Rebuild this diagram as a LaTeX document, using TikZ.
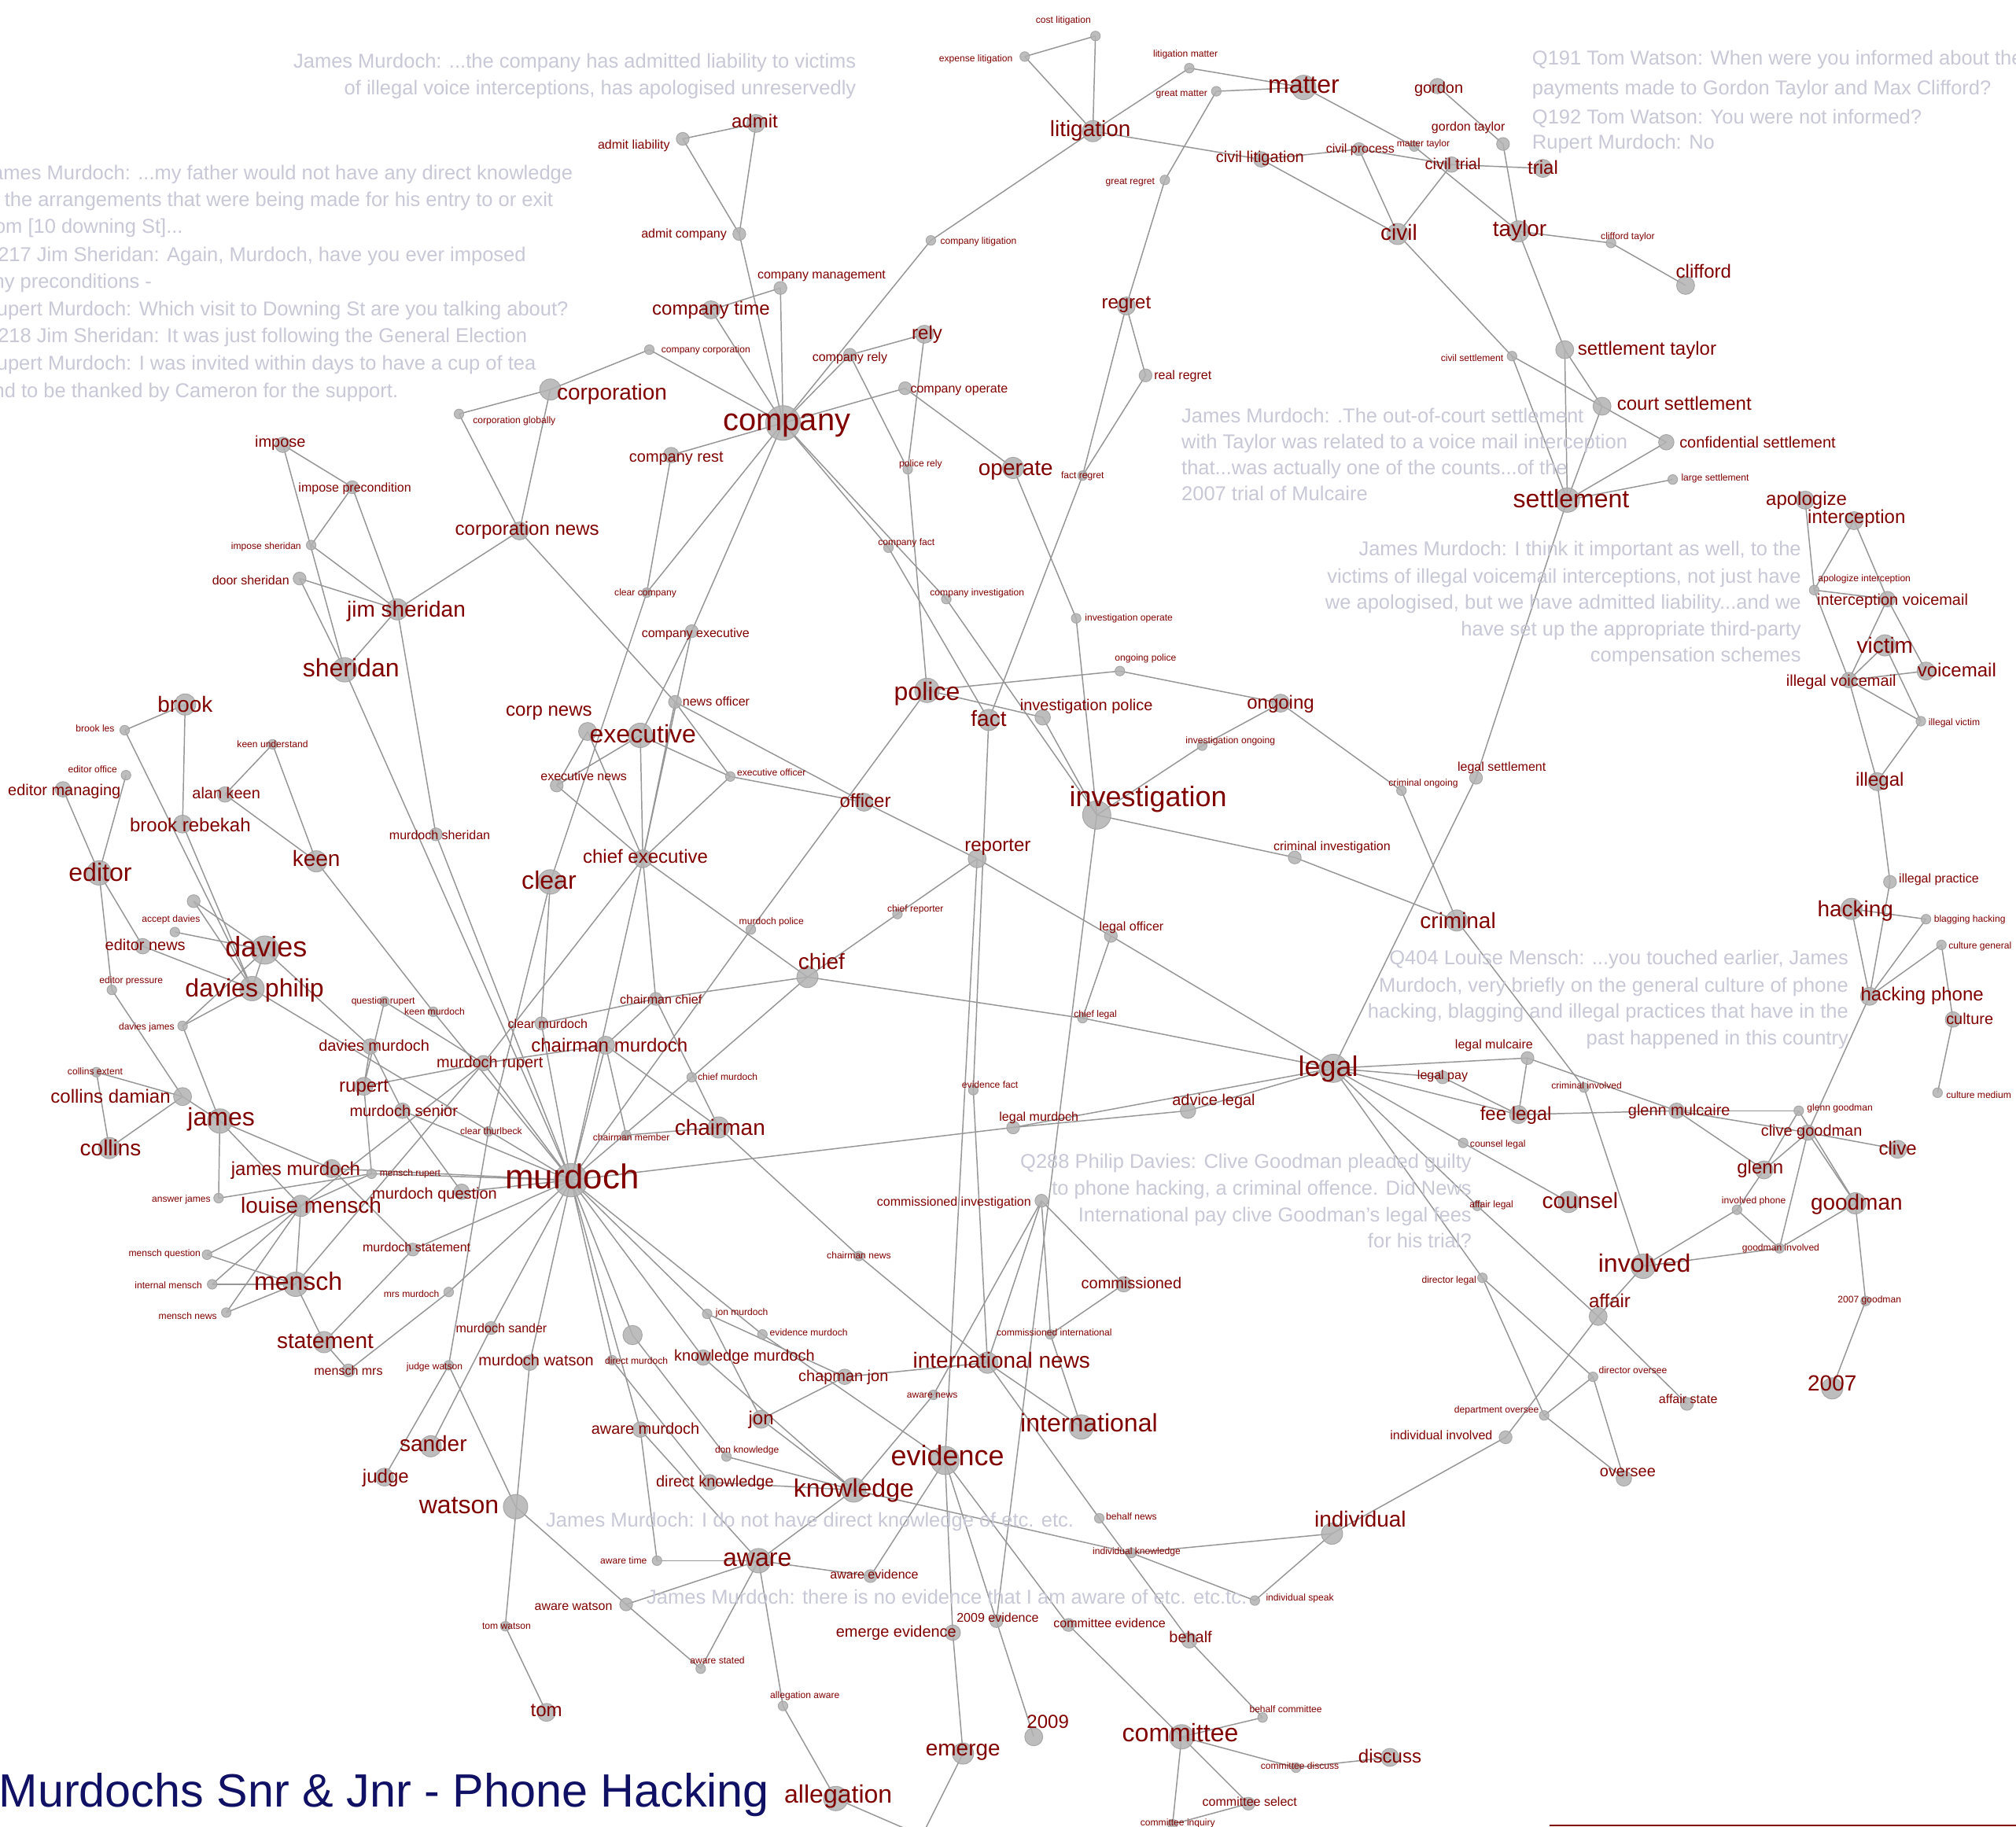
\documentclass[tikz,border=0pt]{standalone}
\usepackage{fontspec}
\setmainfont{Liberation Sans}
\pgfdeclarelayer{bgw}\pgfdeclarelayer{bg}\pgfdeclarelayer{mid}
\pgfsetlayers{bgw,bg,mid,main}
\definecolor{lblred}{RGB}{128,0,0}
\definecolor{edgegray}{RGB}{150,150,150}
\definecolor{dotfill}{RGB}{178,178,178}
\definecolor{dotdraw}{RGB}{160,160,160}
\definecolor{cmtgray}{RGB}{200,200,214}
\definecolor{titleblue}{RGB}{16,16,100}
\tikzset{
 blob/.style={circle,fill=dotfill,draw=dotdraw,line width=0.6pt,fill opacity=0.85,draw opacity=0.85,inner sep=0pt},
 lbl/.style={text=lblred,inner sep=0pt,anchor=mid},
 link/.style={draw=edgegray,line width=0.9pt},
 cmt/.style={text=cmtgray,inner sep=0pt,yshift=-3pt,font=\fontsize{15.6}{15.6}\selectfont},
 ttl/.style={text=titleblue,inner sep=0pt,font=\fontsize{36.3}{36.3}\selectfont},
}
\newcommand\nd[7]{%
 \edef\ndD{\ifcase#4\or7.5\or10\or12\or14\or16.5\or19\or22\or27\or26\fi}%
 \edef\ndF{\ifcase#4\or7.4\or9.8\or12.2\or14.7\or17.1\or19.6\or22\or24.4\or26.8\fi}%
 \pgfmathsetmacro\ndY{0.28*\ndF-1.5}%
 \begin{pgfonlayer}{mid}\node[blob,minimum size=\ndD pt] (#1) at (#2,#3) {};\end{pgfonlayer}%
 \node[lbl,yshift=-\ndY pt,font=\fontsize{\ndF}{\ndF}\selectfont] (#1-t) at (#6,#7) {#5};%
}
\begin{document}
\begin{tikzpicture}[x=1pt,y=-1pt]
\useasboundingbox (0,0) rectangle (1568,1421);
\begin{pgfonlayer}{bgw}\fill[white] (0,0) rectangle (1568,1421);\end{pgfonlayer}

% ---------- comment texts ----------
\node[cmt,anchor=mid east] (cA1) at (666,47) {James Murdoch: ...the company has admitted liability to victims};
\node[cmt,anchor=mid east] (cA2) at (666,68) {of illegal voice interceptions, has apologised unreservedly};
\node[cmt,anchor=mid west] (cB1) at (-14,134) {James Murdoch: ...my father would not have any direct knowledge};
\node[cmt,anchor=mid west] (cB2) at (-14,155) {of the arrangements that were being made for his entry to or exit};
\node[cmt,anchor=mid west] (cB3) at (-14,176) {from [10 downing St]...};
\node[cmt,anchor=mid west] (cB4) at (-14,197.5) {Q217 Jim Sheridan: Again, Murdoch, have you ever imposed};
\node[cmt,anchor=mid west] (cB5) at (-14,218.5) {any preconditions -};
\node[cmt,anchor=mid west] (cB6) at (-14,240) {Rupert Murdoch: Which visit to Downing St are you talking about?};
\node[cmt,anchor=mid west] (cB7) at (-14,261) {Q218 Jim Sheridan: It was just following the General Election};
\node[cmt,anchor=mid west] (cB8) at (-14,282.5) {Rupert Murdoch: I was invited within days to have a cup of tea};
\node[cmt,anchor=mid west] (cB9) at (-14,303.5) {and to be thanked by Cameron for the support.};
\node[cmt,anchor=mid west] (cC1) at (1191.5,44.6) {Q191 Tom Watson: When were you informed about the};
\node[cmt,anchor=mid west] (cC2) at (1191.5,68) {payments made to Gordon Taylor and Max Clifford?};
\node[cmt,anchor=mid west] (cC3) at (1191.5,90.8) {Q192 Tom Watson: You were not informed?};
\node[cmt,anchor=mid west] (cC4) at (1191.5,110.3) {Rupert Murdoch: No};
\node[cmt,anchor=mid west] (cD1) at (918.8,323) {James Murdoch: .The out-of-court settlement};
\node[cmt,anchor=mid west] (cD2) at (918.8,343.3) {with Taylor was related to a voice mail interception};
\node[cmt,anchor=mid west] (cD3) at (918.8,363.5) {that...was actually one of the counts...of the};
\node[cmt,anchor=mid west] (cD4) at (918.8,384) {2007 trial of Mulcaire};
\node[cmt,anchor=mid east] (cE1) at (1401,426.5) {James Murdoch: I think it important as well, to the};
\node[cmt,anchor=mid east] (cE2) at (1401,448) {victims of illegal voicemail interceptions, not just have};
\node[cmt,anchor=mid east] (cE3) at (1401,468) {we apologised, but we have admitted liability...and we};
\node[cmt,anchor=mid east] (cE4) at (1401,489) {have set up the appropriate third-party};
\node[cmt,anchor=mid east] (cE5) at (1401,509) {compensation schemes};
\node[cmt,anchor=mid east] (cF1) at (1437.8,745) {Q404 Louise Mensch: ...you touched earlier, James};
\node[cmt,anchor=mid east] (cF2) at (1437.8,766) {Murdoch, very briefly on the general culture of phone};
\node[cmt,anchor=mid east] (cF3) at (1437.8,786) {hacking, blagging and illegal practices that have in the};
\node[cmt,anchor=mid east] (cF4) at (1437.8,807) {past happened in this country};
\node[cmt,anchor=mid east] (cG1) at (1144.7,903) {Q288 Philip Davies: Clive Goodman pleaded guilty};
\node[cmt,anchor=mid east] (cG2) at (1144.7,924) {to phone hacking, a criminal offence. Did News};
\node[cmt,anchor=mid east] (cG3) at (1144.7,944.6) {International pay clive Goodman's legal fees};
\node[cmt,anchor=mid east] (cG4) at (1144.7,965) {for his trial?};
\node[cmt,anchor=mid west] (cH1) at (424.5,1182) {James Murdoch: I do not have direct knowledge of etc. etc.};
\node[cmt,anchor=mid west] (cI1) at (502.8,1242) {James Murdoch: there is no evidence that I am aware of etc. etc.tc.};

% ---------- nodes ----------
\nd{costlit}{852}{28}{1}{cost litigation}{827}{15}
\nd{explit}{797}{44}{1}{expense litigation}{759}{45}
\nd{litmat}{925}{53}{1}{litigation matter}{922}{41}
\nd{grtmat}{946}{71}{1}{great matter}{919}{72}
\nd{matter}{1014}{68}{6}{matter}{1014}{66}
\nd{litigation}{850}{102}{5}{litigation}{848}{100}
\nd{gordon}{1118}{67}{3}{gordon}{1119}{68}
\nd{gordontaylor}{1169}{112}{2}{gordon taylor}{1142}{98}
\nd{mattertaylor}{1100}{114}{1}{matter taylor}{1107}{111}
\nd{civilproc}{1057}{116}{2}{civil process}{1058}{115}
\nd{civillit}{981}{124}{3}{civil litigation}{980}{122}
\nd{civiltrial}{1129}{128}{3}{civil trial}{1130}{127}
\nd{trial}{1200}{131}{4}{trial}{1200}{130}
\nd{civil}{1087}{182}{5}{civil}{1088}{181}
\nd{taylor}{1181}{180}{5}{taylor}{1182}{178}
\nd{cliffordtaylor}{1253}{189}{1}{clifford taylor}{1266}{183}
\nd{clifford}{1311}{222}{4}{clifford}{1325}{211}
\nd{grtregret}{906}{140}{1}{great regret}{879}{140}
\nd{compLit}{724}{187}{1}{company litigation}{761}{187}
\nd{regret}{876}{238}{4}{regret}{876}{235}
\nd{realregret}{891}{292}{2}{real regret}{920}{291}
\nd{factregret}{842}{370}{1}{fact regret}{842}{369}
\nd{civilsett}{1176}{277}{1}{civil settlement}{1145}{278}
\nd{setttaylor}{1217}{272}{4}{settlement taylor}{1281}{271}
\nd{courtsett}{1246}{316}{4}{court settlement}{1310}{314}
\nd{confsett}{1296}{344}{3}{confidential settlement}{1367}{344}
\nd{largesett}{1301}{373}{1}{large settlement}{1334}{371}
\nd{settlement}{1219}{389}{6}{settlement}{1222}{388}

\nd{admit}{588}{96}{4}{admit}{587}{94}
\nd{admitliab}{531}{108}{2}{admit liability}{493}{112}
\nd{admitcomp}{575}{182}{2}{admit company}{532}{181}
\nd{compmgmt}{607}{224}{2}{company management}{639}{213}
\nd{comptime}{553}{241}{4}{company time}{553}{240}
\nd{compcorp}{505}{272}{1}{company corporation}{549}{271}
\nd{corporation}{428}{303}{5}{corporation}{476}{305}
\nd{corpglobal}{357}{322}{1}{corporation globally}{400}{326}
\nd{rely}{719}{260}{4}{rely}{721}{259}
\nd{comprely}{661}{276}{2}{company rely}{661}{277}
\nd{compop}{704}{302}{2}{company operate}{746}{302}
\nd{company}{609}{329}{8}{company}{612}{327}
\nd{comprest}{522}{354}{3}{company rest}{526}{355}
\nd{policerely}{706}{365}{1}{police rely}{716}{360}
\nd{operate}{788}{364}{5}{operate}{790}{364}
\nd{corpnews}{404}{413}{4}{corporation news}{410}{411}
\nd{compfact}{691}{426}{1}{company fact}{705}{421}
\nd{clearcomp}{503}{461}{1}{clear company}{502}{460}
\nd{compinvest}{736}{466}{1}{company investigation}{760}{460}
\nd{invop}{837}{481}{1}{investigation operate}{878}{480}
\nd{compexec}{538}{491}{2}{company executive}{541}{492}

\nd{impose}{220}{346}{3}{impose}{218}{343}
\nd{imposeprec}{274}{379}{2}{impose precondition}{276}{379}
\nd{imposesher}{242}{424}{1}{impose sheridan}{207}{424}
\nd{doorsher}{233}{450}{2}{door sheridan}{195}{451}
\nd{jimsher}{309}{474}{5}{jim sheridan}{316}{474}
\nd{sheridan}{268}{521}{6}{sheridan}{273}{520}
\nd{brook}{144}{548}{5}{brook}{144}{548}
\nd{brookles}{97}{568}{1}{brook les}{74}{566}
\nd{keenunder}{212}{579}{1}{keen understand}{212}{578}
\nd{editoroffice}{98}{603}{1}{editor office}{72}{598}
\nd{editormanag}{49}{614}{3}{editor managing}{50}{614}
\nd{alankeen}{175}{618}{3}{alan keen}{176}{617}
\nd{brookreb}{142}{641}{4}{brook rebekah}{148}{642}
\nd{keen}{246}{670}{5}{keen}{246}{668}
\nd{editor}{77}{679}{6}{editor}{78}{679}
\nd{murdochsher}{339}{649}{2}{murdoch sheridan}{342}{649}
\nd{acceptdavies}{136}{725}{1}{accept davies}{133}{714}
\nd{editornews}{111}{736}{3}{editor news}{113}{735}
\nd{davies}{206}{739}{7}{davies}{207}{737}
\nd{editorpress}{87}{770}{1}{editor pressure}{102}{762}
\nd{daviesphilip}{196}{769}{6}{davies philip}{198}{769}
\nd{daviesjames}{142}{798}{1}{davies james}{114}{798}
\nd{questionrupert}{299}{779}{1}{question rupert}{298}{778}
\nd{keenmurdoch}{337}{787}{1}{keen murdoch}{338}{786}
\nd{clearmurdoch}{421}{796}{2}{clear murdoch}{426}{796}
\nd{daviesmurdoch}{288}{814}{3}{davies murdoch}{291}{813}
\nd{murdochrupert}{376}{827}{3}{murdoch rupert}{381}{826}
\nd{rupert}{283}{845}{4}{rupert}{283}{844}
\nd{collinsextent}{75}{834}{1}{collins extent}{74}{833}
\nd{collinsdamian}{142}{853}{4}{collins damian}{86}{853}
\nd{collins}{85}{893}{5}{collins}{86}{893}
\nd{james}{171}{872}{6}{james}{172}{869}
\nd{murdochsenior}{313}{864}{3}{murdoch senior}{314}{864}
\nd{clearthurlbeck}{380}{880}{1}{clear thurlbeck}{382}{879}
\nd{jamesmurdoch}{258}{909}{4}{james murdoch}{230}{909}
\nd{menschrupert}{289}{913}{1}{mensch rupert}{319}{912}
\nd{murdochquestion}{359}{927}{3}{murdoch question}{338}{928}
\nd{answerjames}{170}{932}{1}{answer james}{141}{932}
\nd{louisemensch}{234}{938}{5}{louise mensch}{242}{938}
\nd{murdoch}{444}{918}{9}{murdoch}{445}{916}
\nd{menschquestion}{161}{976}{1}{mensch question}{128}{974}
\nd{murdochstatement}{321}{972}{2}{murdoch statement}{324}{970}
\nd{internalmensch}{165}{999}{1}{internal mensch}{131}{999}
\nd{mensch}{230}{999}{6}{mensch}{232}{997}
\nd{mrsmurdoch}{349}{1005}{1}{mrs murdoch}{320}{1006}
\nd{menschnews}{176}{1021}{1}{mensch news}{146}{1023}
\nd{statement}{252}{1044}{5}{statement}{253}{1043}
\nd{menschmrs}{271}{1066}{2}{mensch mrs}{271}{1066}
\nd{murdochsander}{382}{1033}{2}{murdoch sander}{390}{1033}
\nd{judgewatson}{349}{1062}{1}{judge watson}{338}{1062}
\nd{murdochwatson}{412}{1060}{3}{murdoch watson}{417}{1058}
\nd{directmurdoch}{476}{1058}{1}{direct murdoch}{495}{1058}
\nd{sander}{335}{1125}{5}{sander}{337}{1123}
\nd{judge}{299}{1149}{4}{judge}{300}{1148}
\nd{watson}{401}{1172}{6}{watson}{357}{1171}
\nd{tomwatson}{393}{1265}{1}{tom watson}{394}{1264}
\nd{tom}{425}{1332}{4}{tom}{425}{1330}
\begin{pgfonlayer}{mid}
\node[blob,minimum size=10pt] (u1) at (150.6,701) {};
\node[blob,minimum size=15pt] (u2) at (492,1038.5) {};
\end{pgfonlayer}

\nd{newsofficer}{525}{546}{2}{news officer}{557}{545}
\nd{corpnews2}{457}{569}{4}{corp news}{427}{552}
\nd{executive}{498}{572}{6}{executive}{500}{571}
\nd{executivenews}{433}{611}{2}{executive news}{454}{603}
\nd{execofficer}{568}{604}{1}{executive officer}{600}{600}
\nd{officer}{672}{624}{4}{officer}{673}{623}
\nd{chiefexec}{500}{668}{4}{chief executive}{502}{666}
\nd{clear}{428}{686}{6}{clear}{427}{685}
\nd{murdochpolice}{584}{723}{1}{murdoch police}{600}{716}
\nd{chiefreporter}{698}{711}{1}{chief reporter}{712}{706}
\nd{reporter}{760}{668}{4}{reporter}{776}{657}
\nd{chief}{628}{760}{5}{chief}{639}{748}
\nd{chairmanchief}{510}{777}{2}{chairman chief}{514}{777}
\nd{chairmanmurdoch}{471}{813}{4}{chairman murdoch}{474}{813}
\nd{chiefmurdoch}{538}{838}{1}{chief murdoch}{566}{837}
\nd{chairman}{559}{877}{5}{chairman}{560}{877}
\nd{chairmanmember}{487}{883}{1}{chairman member}{491}{884}
\nd{police}{721}{537}{6}{police}{721}{538}
\nd{fact}{769}{560}{5}{fact}{769}{559}
\nd{ongoingpolice}{871}{522}{1}{ongoing police}{891}{511}
\nd{invpolice}{811}{558}{3}{investigation police}{845}{548}
\nd{ongoing}{996}{547}{4}{ongoing}{996}{546}
\nd{invongoing}{935}{580}{1}{investigation ongoing}{957}{575}
\nd{investigation}{853}{634}{7}{investigation}{893}{620}
\nd{criminalongoing}{1090}{615}{1}{criminal ongoing}{1107}{608}
\nd{legalsett}{1148}{605}{2}{legal settlement}{1168}{596}
\nd{criminalinv}{1007}{667}{2}{criminal investigation}{1036}{658}
\nd{criminal}{1133}{716}{5}{criminal}{1134}{716}
\nd{legalofficer}{864}{728}{2}{legal officer}{880}{720}
\nd{chieflegal}{842}{792}{1}{chief legal}{852}{788}
\nd{evidencefact}{757}{848}{1}{evidence fact}{770}{843}
\nd{legal}{1037}{831}{7}{legal}{1033}{830}
\nd{advicelegal}{924}{864}{3}{advice legal}{944}{855}
\nd{legalmurdoch}{788}{877}{2}{legal murdoch}{808}{868}
\nd{legalmulcaire}{1188}{823}{2}{legal mulcaire}{1162}{812}
\nd{legalpay}{1122}{838}{2}{legal pay}{1122}{836}
\nd{feelegal}{1181}{867}{4}{fee legal}{1179}{866}
\nd{counsellegal}{1138}{889}{1}{counsel legal}{1165}{889}
\nd{counsel}{1220}{935}{5}{counsel}{1229}{934}
\nd{criminalinvolved}{1232}{846}{1}{criminal involved}{1234}{844}
\nd{glennmulcaire}{1304}{864}{3}{glenn mulcaire}{1306}{863}
\nd{glenngoodman}{1399}{864}{1}{glenn goodman}{1431}{861}
\nd{clivegoodman}{1406}{881}{3}{clive goodman}{1409}{879}
\nd{clive}{1476}{894}{4}{clive}{1476}{893}
\nd{glenn}{1372}{910}{4}{glenn}{1369}{908}
\nd{involvedphone}{1351}{941}{1}{involved phone}{1364}{933}
\nd{goodman}{1443}{936}{5}{goodman}{1444}{935}
\nd{goodmaninvolved}{1384}{971}{1}{goodman involved}{1385}{970}
\nd{involved}{1278}{985}{6}{involved}{1279}{983}
\nd{affair}{1243}{1024}{4}{affair}{1252}{1012}
\nd{affairlegal}{1149}{938}{1}{affair legal}{1160}{936}
\nd{directorlegal}{1153}{994}{1}{director legal}{1127}{995}
\nd{directoroversee}{1239}{1071}{1}{director oversee}{1270}{1065}
\nd{affairstate}{1312}{1092}{2}{affair state}{1313}{1088}
\nd{deptoversee}{1201}{1101}{1}{department oversee}{1164}{1096}
\nd{indivinvolved}{1171}{1118}{2}{individual involved}{1121}{1116}
\nd{oversee}{1263}{1150}{3}{oversee}{1266}{1144}
\nd{goodmanseven}{1451}{1012}{1}{2007 goodman}{1454}{1010}
\nd{yseven}{1425}{1080}{5}{2007}{1425}{1076}

\nd{apologize}{1404}{389}{4}{apologize}{1405}{388}
\nd{interception}{1442}{405}{4}{interception}{1444}{402}
\nd{apologinterc}{1411}{459}{1}{apologize interception}{1450}{449}
\nd{intercvoicemail}{1468}{466}{3}{interception voicemail}{1472}{466}
\nd{victim}{1466}{502}{5}{victim}{1466}{502}
\nd{voicemail}{1498}{522}{4}{voicemail}{1522}{521}
\nd{illegalvoicemail}{1438}{529}{3}{illegal voicemail}{1432}{529}
\nd{illegalvictim}{1494}{561}{1}{illegal victim}{1520}{561}
\nd{illegal}{1460}{608}{4}{illegal}{1462}{606}
\nd{illegalpractice}{1470}{686}{2}{illegal practice}{1508}{683}
\nd{hacking}{1440}{707}{5}{hacking}{1443}{707}
\nd{blagginghacking}{1498}{715}{1}{blagging hacking}{1532}{714}
\nd{culturegeneral}{1510}{735}{1}{culture general}{1540}{735}
\nd{hackingphone}{1454}{775}{4}{hacking phone}{1495}{773}
\nd{culture}{1519}{793}{3}{culture}{1532}{792}
\nd{culturemedium}{1507}{850}{1}{culture medium}{1539}{851}

\nd{commInvest}{810}{934}{2}{commissioned investigation}{742}{934}
\nd{chairmannews}{668}{977}{1}{chairman news}{668}{976}
\nd{commissioned}{874}{999}{3}{commissioned}{880}{998}
\nd{jonmurdoch}{550}{1022}{1}{jon murdoch}{577}{1020}
\nd{evidencemurdoch}{593}{1038}{1}{evidence murdoch}{629}{1036}
\nd{comminternational}{817}{1038}{1}{commissioned international}{820}{1036}
\nd{knowledgemurdoch}{547}{1056}{3}{knowledge murdoch}{579}{1054}
\nd{internationalnews}{768}{1060}{5}{international news}{779}{1058}
\nd{chapmanjon}{657}{1071}{3}{chapman jon}{656}{1070}
\nd{awarenews}{726}{1085}{1}{aware news}{725}{1084}
\nd{jon}{592}{1104}{4}{jon}{592}{1103}
\nd{international}{841}{1110}{6}{international}{847}{1107}
\nd{awaremurdoch}{498}{1112}{3}{aware murdoch}{502}{1111}
\nd{donknowledge}{565}{1133}{1}{don knowledge}{581}{1127}
\nd{evidence}{735}{1136}{7}{evidence}{737}{1133}
\nd{directknowledge}{552}{1153}{3}{direct knowledge}{556}{1152}
\nd{knowledge}{664}{1159}{6}{knowledge}{664}{1158}
\nd{behalfnews}{855}{1181}{1}{behalf news}{880}{1179}
\nd{individual}{1036}{1193}{5}{individual}{1058}{1182}
\nd{indivknowledge}{880}{1208}{1}{individual knowledge}{884}{1206}
\nd{awaretime}{511}{1214}{1}{aware time}{485}{1213}
\nd{aware}{590}{1214}{6}{aware}{589}{1212}
\nd{awareevidence}{677}{1226}{2}{aware evidence}{680}{1224}
\nd{individualspeak}{976}{1245}{1}{individual speak}{1011}{1242}
\nd{awarewatson}{487}{1248}{2}{aware watson}{446}{1249}
\nd{ynineevidence}{775}{1261}{2}{2009 evidence}{776}{1258}
\nd{emergeevidence}{741}{1270}{3}{emerge evidence}{697}{1269}
\nd{committeeevidence}{831}{1264}{2}{committee evidence}{863}{1262}
\nd{behalf}{925}{1276}{3}{behalf}{926}{1273}
\nd{awarestated}{545}{1298}{1}{aware stated}{558}{1291}
\nd{allegationaware}{609}{1327}{1}{allegation aware}{626}{1318}
\nd{behalfcommittee}{982}{1336}{1}{behalf committee}{1000}{1329}
\nd{ynine}{804}{1351}{4}{2009}{815}{1339}
\nd{committee}{919}{1351}{6}{committee}{918}{1348}
\nd{emerge}{749}{1364}{5}{emerge}{749}{1360}
\nd{discuss}{1081}{1367}{4}{discuss}{1081}{1366}
\nd{committeediscuss}{1008}{1375}{1}{committee discuss}{1011}{1373}
\nd{allegation}{650}{1399}{6}{allegation}{652}{1396}
\nd{committeeselect}{971}{1403}{2}{committee select}{972}{1401}
\nd{committeeinquiry}{912}{1419}{1}{committee inquiry}{916}{1417}
\coordinate (offA) at (717,1428);

% ---------- edges ----------
\begin{pgfonlayer}{bg}
\foreach \a/\b in {costlit/explit, costlit/litigation, explit/litigation, litmat/litigation, litmat/matter, grtmat/matter, grtmat/grtregret, grtregret/regret, litigation/civillit, litigation/compLit, compLit/company, matter/mattertaylor, mattertaylor/taylor, civillit/civilproc, civilproc/civiltrial, civiltrial/trial, civilproc/civil, civillit/civil, civiltrial/civil, civil/civilsett, civilsett/settlement, civilsett/courtsett, courtsett/confsett, gordon/gordontaylor, gordontaylor/taylor, taylor/cliffordtaylor, cliffordtaylor/clifford, taylor/setttaylor, setttaylor/courtsett, setttaylor/settlement, courtsett/settlement, confsett/settlement, largesett/settlement, settlement/legalsett, legalsett/legal,
regret/realregret, regret/factregret, realregret/factregret, factregret/fact,
admit/admitliab, admit/admitcomp, admitliab/admitcomp, admitcomp/company, compmgmt/comptime, compmgmt/company, comptime/company, compcorp/corporation, compcorp/company, corporation/corpglobal, corpglobal/corpnews, corporation/corpnews, jimsher/corpnews, rely/comprely, rely/policerely, policerely/police, comprely/company, comprely/policerely, compop/company, compop/operate, company/comprest, comprest/clearcomp, clearcomp/company, clearcomp/clear, company/compexec, company/compfact, compfact/fact, company/compinvest, compinvest/investigation, operate/invop, invop/investigation, corpnews/newsofficer, newsofficer/officer, newsofficer/execofficer, newsofficer/chiefexec, compexec/chiefexec, compexec/executive,
corpnews2/executivenews, executive/executivenews, executivenews/chiefexec, corpnews2/chiefexec, executive/chiefexec, executive/execofficer, execofficer/chiefexec, execofficer/officer, chiefexec/murdoch, chiefexec/chief, chiefexec/chairmanchief, chiefexec/murdochrupert, officer/reporter, reporter/legalofficer, legalofficer/legal, legalofficer/chieflegal, chief/chieflegal, chieflegal/legal, chief/chiefreporter, chiefreporter/reporter, reporter/evidence, police/murdochpolice, murdochpolice/murdoch, chief/chairmanchief, chairmanchief/clearmurdoch, chairmanchief/chairmanmurdoch, chairmanchief/chairman, chairmanmurdoch/murdoch, chairmanmurdoch/chairman, chairmanmurdoch/murdochrupert, chairmanmurdoch/chairmanmember, chairmanmember/chairman, chief/chiefmurdoch, chiefmurdoch/murdoch, chairman/chairmannews, chairmannews/internationalnews, clear/clearmurdoch, clearmurdoch/murdoch, clear/clearthurlbeck, clearthurlbeck/judgewatson,
police/ongoingpolice, ongoingpolice/ongoing, police/invpolice, invpolice/investigation, investigation/invongoing, invongoing/ongoing, ongoing/criminalongoing, criminalongoing/criminal, investigation/criminalinv, criminalinv/criminal, criminal/criminalinvolved, criminalinvolved/involved, investigation/ynineevidence, fact/evidencefact, evidencefact/internationalnews,
murdoch/legalmurdoch, legalmurdoch/legal, legalmurdoch/advicelegal, advicelegal/legal, legal/legalmulcaire, legal/legalpay, legalpay/feelegal, legal/feelegal, legalmulcaire/feelegal, legalmulcaire/glennmulcaire, feelegal/glennmulcaire, legal/counsellegal, counsellegal/counsel, legal/affairlegal, affairlegal/affair, affair/affairstate, legal/directorlegal, directorlegal/directoroversee, directorlegal/deptoversee, directoroversee/deptoversee, deptoversee/oversee, directoroversee/oversee, involved/affair, affair/indivinvolved, indivinvolved/individual,
glennmulcaire/glenngoodman, glennmulcaire/clivegoodman, glennmulcaire/glenn, glenngoodman/glenn, glenngoodman/goodman, clivegoodman/clive, clivegoodman/glenn, clivegoodman/goodman, clivegoodman/goodmaninvolved, hackingphone/clivegoodman, involved/involvedphone, involvedphone/glenn, involvedphone/goodmaninvolved, goodmaninvolved/involved, goodman/goodmaninvolved, goodman/goodmanseven, goodmanseven/yseven,
apologize/apologinterc, interception/apologinterc, interception/intercvoicemail, apologinterc/intercvoicemail, apologinterc/illegalvoicemail, intercvoicemail/illegalvoicemail, intercvoicemail/voicemail, illegalvoicemail/victim, illegalvoicemail/voicemail, illegalvoicemail/illegalvictim, victim/illegalvictim, illegalvictim/illegal, illegalvoicemail/illegal, illegal/illegalpractice, illegalpractice/hackingphone, hacking/blagginghacking, hacking/hackingphone, blagginghacking/hackingphone, culturegeneral/hackingphone, culturegeneral/culture, culture/culturemedium,
murdoch/murdochsher, murdochsher/jimsher, murdoch/sheridan, keen/keenmurdoch, keenmurdoch/murdoch, keenunder/alankeen, keenunder/keen, alankeen/keen, questionrupert/murdochrupert, questionrupert/rupert, davies/daviesmurdoch, daviesphilip/murdoch, daviesmurdoch/rupert, daviesmurdoch/murdochsenior, murdochsenior/murdoch, murdochsenior/murdochquestion, murdochrupert/murdoch, murdochrupert/rupert, murdochrupert/louisemensch, murdochrupert/mensch, rupert/menschrupert, menschrupert/murdoch, menschrupert/louisemensch, answerjames/menschrupert, james/jamesmurdoch, james/daviesjames, james/answerjames, james/louisemensch, jamesmurdoch/murdoch, jamesmurdoch/murdochstatement, murdochquestion/murdoch,
louisemensch/menschquestion, louisemensch/internalmensch, louisemensch/menschnews, louisemensch/mensch, menschquestion/mensch, internalmensch/mensch, menschnews/mensch, mensch/statement, statement/menschmrs, statement/murdochstatement, murdochstatement/murdoch, menschmrs/mrsmurdoch, mrsmurdoch/murdoch, murdochsander/sander, murdochsander/murdoch, judgewatson/judge, judgewatson/watson, murdoch/murdochwatson, murdochwatson/tomwatson, tomwatson/tom, murdoch/u2, u2/donknowledge, murdoch/directmurdoch, directmurdoch/directknowledge, murdoch/awaremurdoch, awaremurdoch/awaretime, awaretime/aware, awaremurdoch/aware, murdoch/jonmurdoch, jonmurdoch/jon, jonmurdoch/chapmanjon, murdoch/evidencemurdoch, evidencemurdoch/evidence, murdoch/knowledgemurdoch, knowledgemurdoch/knowledge, jon/chapmanjon, jon/knowledge, chapmanjon/internationalnews, donknowledge/knowledge, directknowledge/knowledge, knowledge/aware, knowledge/awarenews, awarenews/commInvest, knowledge/indivknowledge, indivknowledge/individual, indivknowledge/individualspeak, individualspeak/individual, watson/awarewatson, awarewatson/awarestated, awarewatson/aware, awarestated/aware, aware/allegationaware, allegationaware/allegation, aware/awareevidence, awareevidence/evidence, evidence/emergeevidence, emergeevidence/emerge, evidence/ynineevidence, ynineevidence/ynine, evidence/committeeevidence, committeeevidence/committee, commInvest/commissioned, commInvest/comminternational, commInvest/internationalnews, commissioned/comminternational, comminternational/international, internationalnews/international, internationalnews/behalfnews, behalfnews/behalf, behalf/behalfcommittee, behalfcommittee/committee, committee/committeediscuss, committeediscuss/discuss, committee/committeeselect, committee/committeeinquiry, committeeselect/committeeinquiry, emerge/offA, allegation/offA,
impose/imposeprec, impose/sheridan, imposeprec/imposesher, imposeprec/jimsher, imposesher/jimsher, doorsher/jimsher, doorsher/sheridan, jimsher/sheridan,
brook/brookles, brook/brookreb, brookles/daviesphilip, brookreb/daviesphilip, editormanag/editor, editoroffice/editor, editor/editornews, editornews/daviesphilip, editor/editorpress, editorpress/collinsdamian, daviesjames/daviesphilip, daviesjames/davies, acceptdavies/davies, u1/davies, u1/daviesphilip, davies/daviesphilip, collinsextent/collinsdamian, collinsextent/collins, collinsdamian/collins, collinsdamian/james}
  \draw[link] (\a.center) -- (\b.center);
\end{pgfonlayer}

% ---------- title and bottom rule ----------
\node[ttl,anchor=base west] (title) at (-1,1405.5) {Murdochs Snr \& Jnr - Phone Hacking};
\coordinate (rl1) at (1205,1420);
\coordinate (rl2) at (1570,1420);
\draw[lblred,line width=1.6pt] (rl1) -- (rl2);
\end{tikzpicture}
\end{document}
